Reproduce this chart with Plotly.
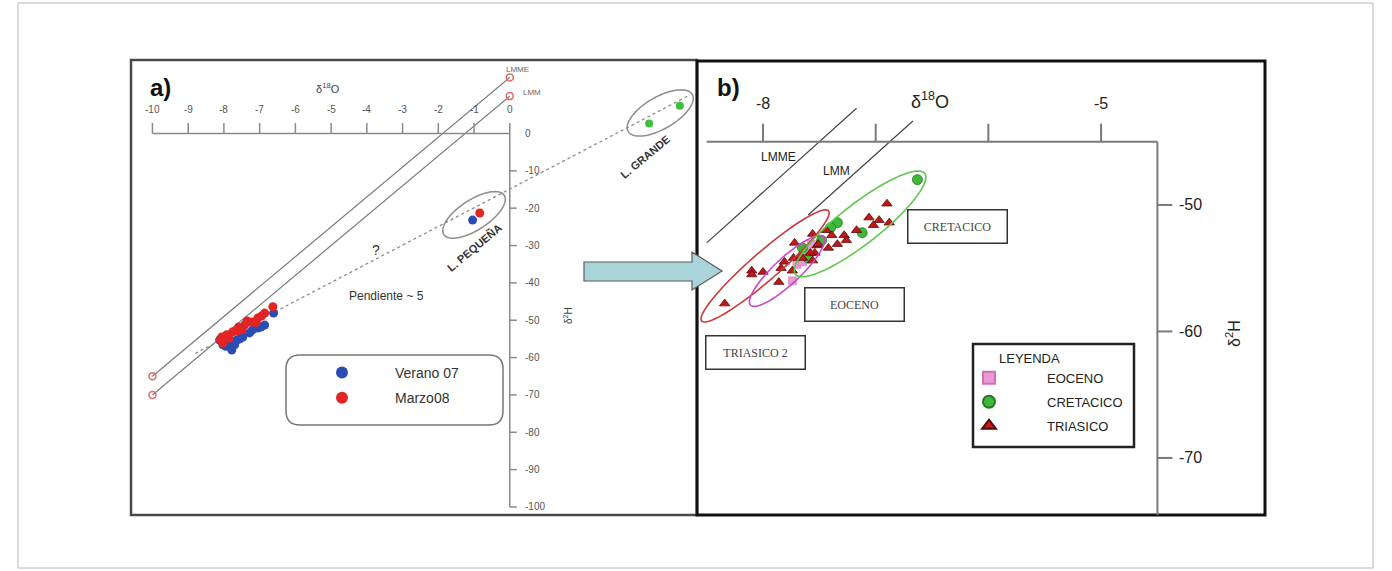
import numpy as np
import plotly.graph_objects as go

W, H = 1392, 571
SANS = "Liberation Sans, Arial, sans-serif"
SERIF = "Liberation Serif, Times New Roman, serif"

# ---------------- panel a: δ18O / δ2H (‰) ----------------
verano07_d18o = [-6.61, -6.86, -7.05, -7.28, -7.47, -7.64, -7.84, -8.03, -8.12, -7.78,
                 -7.20, -6.95, -7.55, -7.95, -7.70, -1.04]
verano07_d2h = [-48.1, -51.3, -52.1, -53.4, -54.5, -55.3, -56.1, -56.6, -55.3, -58.0,
                -52.6, -51.8, -55.0, -57.0, -56.6, -23.2]
marzo08_d18o = [-6.63, -6.86, -7.05, -7.22, -7.42, -7.59, -7.75, -7.92, -8.06, -8.03,
                -7.65, -7.35, -7.85, -7.10, -6.95, -8.10, -7.50, -0.84]
marzo08_d2h = [-46.4, -48.1, -49.4, -50.5, -51.3, -51.8, -53.1, -53.9, -54.5, -56.1,
               -52.9, -50.2, -54.8, -50.6, -48.9, -55.3, -52.6, -21.3]
lgrande_d18o = [3.90, 4.76]
lgrande_d2h = [2.7, 7.45]

lmme_a_x, lmme_a_y = [-10, 0], [-65, 15]
lmm_a_x, lmm_a_y = [-10, 0], [-70, 10]
evap_x, evap_y = [-8.8, 5.0], [-58.9, 10.1]

a_xticks = [-10, -9, -8, -7, -6, -5, -4, -3, -2, -1, 0]
a_xticklabels = ["-10", "-9", "-8", "-7", "-6", "-5", "-4", "-3", "-2", "-1", "0"]
a_yticks = [0, -10, -20, -30, -40, -50, -60, -70, -80, -90, -100]
a_yticklabels = ["0", "-10", "-20", "-30", "-40", "-50", "-60", "-70", "-80", "-90", "-100"]

# ---------------- panel b ----------------
eoceno_d18o = [-7.70, -7.74, -7.57, -7.62, -7.65]
eoceno_d2h = [-54.7, -56.0, -53.1, -53.8, -54.5]
cretacico_d18o = [-6.63, -7.34, -7.40, -7.12, -7.65, -7.48, -7.60]
cretacico_d2h = [-48.0, -51.4, -51.8, -52.2, -53.4, -52.8, -54.2]
triasico_d18o = [-6.90, -7.06, -6.97, -7.02, -6.88, -7.17, -7.44, -7.39, -7.28, -7.26,
                 -7.34, -7.42, -7.52, -7.56, -7.54, -7.58, -7.72, -7.67, -7.65, -7.56,
                 -7.73, -7.74, -7.84, -7.86, -8.00, -8.10, -8.10, -8.34, -7.51, -7.81]
triasico_d2h = [-49.9, -51.0, -51.2, -51.6, -51.4, -52.0, -52.0, -52.4, -52.4, -52.8,
                -53.1, -53.4, -53.2, -52.3, -53.8, -53.8, -53.0, -54.0, -54.2, -54.4,
                -54.2, -55.2, -55.0, -56.1, -55.3, -55.2, -55.5, -57.8, -53.1, -54.5]

lmme_b_x, lmme_b_y = [-8.5, -7.17], [-53.0, -42.36]
lmm_b_x, lmm_b_y = [-7.6, -6.67], [-50.8, -43.36]

b_xticks = [-8, -7, -6, -5]
b_xticklabels = ["-8", "", "", "-5"]
b_yticks = [-50, -60, -70]
b_yticklabels = ["-50", "-60", "-70"]

# ---------------- axes geometry ----------------
A_DOM_X = (131, 697)
A_DOM_Y = (60, 515)
A_XR = [-10.6, 5.24]
A_YR = [-102.15, 19.67]
B_DOM_X = (697, 1265)
B_DOM_Y = (62, 515)
B_XR = [-8.586, -3.545]
B_YR = [-74.51, -38.70]

a_sx = (A_DOM_X[1] - A_DOM_X[0]) / (A_XR[1] - A_XR[0])
a_sy = (A_DOM_Y[1] - A_DOM_Y[0]) / (A_YR[1] - A_YR[0])
b_sx = (B_DOM_X[1] - B_DOM_X[0]) / (B_XR[1] - B_XR[0])
b_sy = (B_DOM_Y[1] - B_DOM_Y[0]) / (B_YR[1] - B_YR[0])


def px(x):
    return x / W


def py(y):
    return 1 - y / H


def ellipse_path(cx, cy, a_px, b_px, ang, sx, sy, n=90):
    t = np.linspace(0, 2 * np.pi, n)
    th = np.radians(ang)
    dx = a_px * np.cos(t) * np.cos(th) - b_px * np.sin(t) * np.sin(th)
    dy = a_px * np.cos(t) * np.sin(th) + b_px * np.sin(t) * np.cos(th)
    xs = cx + dx / sx
    ys = cy + dy / sy
    return "M" + " L".join(f"{x:.5f},{y:.5f}" for x, y in zip(xs, ys)) + " Z"


fig = go.Figure()

# panel a lines
for lx, ly in [(lmme_a_x, lmme_a_y), (lmm_a_x, lmm_a_y)]:
    fig.add_trace(go.Scatter(x=lx, y=ly, mode="lines+markers", xaxis="x", yaxis="y",
                             line=dict(color="#7a7a7a", width=1.2),
                             marker=dict(symbol="circle-open", size=7, color="#e06a6a", line=dict(width=1.5)),
                             showlegend=False, hoverinfo="skip"))
fig.add_trace(go.Scatter(x=evap_x, y=evap_y, mode="lines", xaxis="x", yaxis="y",
                         line=dict(color="#8a8a8a", width=1.3, dash="dot"),
                         showlegend=False, hoverinfo="skip"))

# panel a samples
fig.add_trace(go.Scatter(x=verano07_d18o, y=verano07_d2h, mode="markers", name="Verano 07",
                         xaxis="x", yaxis="y", legend="legend", legendgroup="v07",
                         marker=dict(color="#2b4db3", size=9, line=dict(width=0))))
fig.add_trace(go.Scatter(x=marzo08_d18o, y=marzo08_d2h, mode="markers", name="Marzo08",
                         xaxis="x", yaxis="y", legend="legend", legendgroup="m08",
                         marker=dict(color="#e22424", size=9, line=dict(width=0))))
fig.add_trace(go.Scatter(x=lgrande_d18o, y=lgrande_d2h, mode="markers", xaxis="x", yaxis="y",
                         marker=dict(color="#3fbf3f", size=8, symbol="circle"),
                         showlegend=False))

# panel b lines
for lx, ly in [(lmme_b_x, lmme_b_y), (lmm_b_x, lmm_b_y)]:
    fig.add_trace(go.Scatter(x=lx, y=ly, mode="lines", xaxis="x2", yaxis="y2",
                             line=dict(color="#444444", width=1.2),
                             showlegend=False, hoverinfo="skip"))

# panel b samples
fig.add_trace(go.Scatter(x=eoceno_d18o, y=eoceno_d2h, mode="markers", name="EOCENO",
                         xaxis="x2", yaxis="y2", legend="legend2", legendgroup="eo",
                         marker=dict(symbol="square", color="#ea9ad2", size=8,
                                     line=dict(color="#d070b8", width=0.5))))
fig.add_trace(go.Scatter(x=cretacico_d18o, y=cretacico_d2h, mode="markers", name="CRETACICO",
                         xaxis="x2", yaxis="y2", legend="legend2", legendgroup="cr",
                         marker=dict(symbol="circle", color="#3fb83a", size=10,
                                     line=dict(color="#1f7a1f", width=0.8))))
fig.add_trace(go.Scatter(x=triasico_d18o, y=triasico_d2h, mode="markers", name="TRIASICO",
                         xaxis="x2", yaxis="y2", legend="legend2", legendgroup="tr",
                         marker=dict(symbol="triangle-up", color="#c01818", size=9,
                                     line=dict(color="#5a0a0a", width=0.8))))

shapes = []
annotations = []

# outer frame and panel frames
shapes.append(dict(type="rect", xref="paper", yref="paper", x0=px(18), x1=px(1373), y0=py(568), y1=py(3),
                   line=dict(color="#b5b5b5", width=1)))
shapes.append(dict(type="rect", xref="paper", yref="paper", x0=px(A_DOM_X[0]), x1=px(A_DOM_X[1]),
                   y0=py(A_DOM_Y[1]), y1=py(A_DOM_Y[0]), line=dict(color="#4a4a4a", width=2.5)))
shapes.append(dict(type="rect", xref="paper", yref="paper", x0=px(B_DOM_X[0]), x1=px(B_DOM_X[1]),
                   y0=py(B_DOM_Y[1]), y1=py(B_DOM_Y[0] - 1), line=dict(color="#111111", width=3)))

# panel a axes drawn through the data origin
AX_COL = "#8a8a8a"
shapes.append(dict(type="line", xref="x", yref="y", x0=a_xticks[0], x1=a_xticks[-1], y0=0, y1=0,
                   line=dict(color=AX_COL, width=1.5)))
shapes.append(dict(type="line", xref="x", yref="y", x0=0, x1=0, y0=a_yticks[0], y1=a_yticks[-1],
                   line=dict(color=AX_COL, width=1.5)))
for v, lab in zip(a_xticks, a_xticklabels):
    shapes.append(dict(type="line", xref="x", yref="y", x0=v, x1=v, y0=0, y1=10.5 / a_sy,
                       line=dict(color=AX_COL, width=1.5)))
    annotations.append(dict(x=v, y=0, xref="x", yref="y", text=lab, showarrow=False, yshift=23.5,
                            xanchor="center", yanchor="middle",
                            font=dict(family=SANS, size=10, color="#555555")))
for v, lab in zip(a_yticks, a_yticklabels):
    if v != 0:
        shapes.append(dict(type="line", xref="x", yref="y", x0=0, x1=7 / a_sx, y0=v, y1=v,
                           line=dict(color=AX_COL, width=1.5)))
    annotations.append(dict(x=0, y=v, xref="x", yref="y", text=lab, showarrow=False, xanchor="left",
                            yanchor="middle", xshift=13, font=dict(family=SANS, size=10, color="#555555")))

# panel a group outlines
shapes.append(dict(type="path", xref="x", yref="y", path=ellipse_path(-1.0, -21.8, 36, 15, 33, a_sx, a_sy),
                   line=dict(color="#8c8c8c", width=1.5)))
shapes.append(dict(type="path", xref="x", yref="y", path=ellipse_path(4.21, 5.49, 37, 16, 30, a_sx, a_sy),
                   line=dict(color="#8c8c8c", width=1.5)))

# panel a legend frame (rounded)
lx0, lx1, ly0, ly1, r = 286, 503, 355, 425, 14
rpath = (f"M{px(lx0 + r)},{py(ly0)} L{px(lx1 - r)},{py(ly0)} Q{px(lx1)},{py(ly0)} {px(lx1)},{py(ly0 + r)} "
         f"L{px(lx1)},{py(ly1 - r)} Q{px(lx1)},{py(ly1)} {px(lx1 - r)},{py(ly1)} "
         f"L{px(lx0 + r)},{py(ly1)} Q{px(lx0)},{py(ly1)} {px(lx0)},{py(ly1 - r)} "
         f"L{px(lx0)},{py(ly0 + r)} Q{px(lx0)},{py(ly0)} {px(lx0 + r)},{py(ly0)} Z")
shapes.append(dict(type="path", xref="paper", yref="paper", path=rpath, line=dict(color="#777777", width=1.5)))

# panel b axes (top x-axis at -45, right y-axis at -4.5)
BX_COL = "#7a7a7a"
b_axis_y = -45
b_axis_x = -4.5
shapes.append(dict(type="line", xref="x2", yref="y2", x0=-8.5, x1=b_axis_x, y0=b_axis_y, y1=b_axis_y,
                   line=dict(color=BX_COL, width=2)))
shapes.append(dict(type="line", xref="x2", yref="y2", x0=b_axis_x, x1=b_axis_x, y0=b_axis_y, y1=B_YR[0],
                   line=dict(color=BX_COL, width=2)))
for v, lab in zip(b_xticks, b_xticklabels):
    shapes.append(dict(type="line", xref="x2", yref="y2", x0=v, x1=v, y0=b_axis_y, y1=b_axis_y + 18 / b_sy,
                       line=dict(color=BX_COL, width=2)))
    if lab:
        annotations.append(dict(x=v, y=b_axis_y, xref="x2", yref="y2", text=lab, showarrow=False, yshift=38,
                                xanchor="center", yanchor="middle",
                                font=dict(family=SANS, size=16, color="#222222")))
for v, lab in zip(b_yticks, b_yticklabels):
    shapes.append(dict(type="line", xref="x2", yref="y2", x0=b_axis_x, x1=b_axis_x + 15 / b_sx, y0=v, y1=v,
                       line=dict(color=BX_COL, width=2)))
    annotations.append(dict(x=b_axis_x, y=v, xref="x2", yref="y2", text=lab, showarrow=False,
                            xanchor="left", yanchor="middle", xshift=20,
                            font=dict(family=SANS, size=16, color="#222222")))

# panel b group outlines
shapes.append(dict(type="path", xref="x2", yref="y2", path=ellipse_path(-7.982, -54.82, 84, 14, 41, b_sx, b_sy),
                   line=dict(color="#c83a3a", width=1.6)))
shapes.append(dict(type="path", xref="x2", yref="y2", path=ellipse_path(-7.787, -55.22, 50, 13, 43, b_sx, b_sy),
                   line=dict(color="#c848c8", width=1.6)))
shapes.append(dict(type="path", xref="x2", yref="y2", path=ellipse_path(-7.139, -51.50, 82, 20, 38, b_sx, b_sy),
                   line=dict(color="#5cc84a", width=1.6)))

# panel b legend frame
shapes.append(dict(type="rect", xref="paper", yref="paper", x0=px(973), x1=px(1134), y0=py(447), y1=py(344),
                   line=dict(color="#222222", width=2.5)))

# block arrow linking the panels
arrow = [(584, 262), (692, 262), (692, 252), (722, 271), (692, 290), (692, 281), (584, 281)]
apath = "M" + " L".join(f"{px(x)},{py(y)}" for x, y in arrow) + " Z"
shapes.append(dict(type="path", xref="paper", yref="paper", path=apath, fillcolor="#a8d4da",
                   line=dict(color="#5a5a5a", width=1.2)))


def txt(x, y, s, size, color="#333333", family=SANS, angle=0, **kw):
    annotations.append(dict(x=px(x), y=py(y), xref="paper", yref="paper", text=s, showarrow=False,
                            xanchor="center", yanchor="middle", textangle=angle,
                            font=dict(family=family, size=size, color=color), **kw))


# panel a texts
txt(160, 88, "<b>a)</b>", 24, "#111111")
txt(328, 88, "δ<sup>18</sup>O", 11, "#444444")
txt(568, 316, "δ<sup>2</sup>H", 10, "#444444", angle=-90)
txt(517, 70, "LMME", 8, "#666666")
txt(532, 93, "LMM", 8, "#666666")
txt(376, 250, "?", 14, "#333333")
txt(386, 296, "Pendiente ~ 5", 12, "#333333")
txt(474, 248, "<b>L. PEQUEÑA</b>", 11, "#333333", angle=-40)
txt(645, 157, "<b>L. GRANDE</b>", 11, "#333333", angle=-40)

# panel b texts
txt(728, 88, "<b>b)</b>", 24, "#111111")
txt(930, 100, "δ<sup>18</sup>O", 18, "#222222")
txt(1233, 334, "δ<sup>2</sup>H", 16, "#222222", angle=-90)
txt(778, 157, "LMME", 12, "#222222")
txt(836, 171, "LMM", 12, "#222222")
for cx, cy, label in [(957.5, 226.5, "CRETACICO"), (854.5, 304.5, "EOCENO"), (755, 352.5, "TRIASICO 2")]:
    txt(cx, cy, label, 12, "#444444", family=SERIF, width=96, height=30, borderpad=1,
        bordercolor="#333333", borderwidth=1.5, bgcolor="white")

fig.update_layout(
    width=W, height=H, margin=dict(l=0, r=0, t=0, b=0),
    paper_bgcolor="white", plot_bgcolor="rgba(0,0,0,0)",
    xaxis=dict(domain=[px(A_DOM_X[0]), px(A_DOM_X[1])], range=A_XR, visible=False, anchor="y"),
    yaxis=dict(domain=[py(A_DOM_Y[1]), py(A_DOM_Y[0])], range=A_YR, visible=False, anchor="x"),
    xaxis2=dict(domain=[px(B_DOM_X[0]), px(B_DOM_X[1])], range=B_XR, visible=False, anchor="y2"),
    yaxis2=dict(domain=[py(B_DOM_Y[1]), py(B_DOM_Y[0])], range=B_YR, visible=False, anchor="x2"),
    showlegend=True,
    legend=dict(x=px(289), xanchor="left", y=py(357), yanchor="top", bgcolor="rgba(0,0,0,0)",
                borderwidth=0, itemwidth=96, itemsizing="constant", traceorder="grouped",
                tracegroupgap=4, font=dict(family=SANS, size=14, color="#333333")),
    legend2=dict(x=px(931), xanchor="left", y=py(346), yanchor="top", bgcolor="rgba(0,0,0,0)",
                 borderwidth=0, itemwidth=106, itemsizing="constant", traceorder="grouped",
                 tracegroupgap=4, font=dict(family=SANS, size=13, color="#222222"),
                 title=dict(text="LEYENDA", side="top center", font=dict(family=SANS, size=13, color="#222222"))),
    shapes=shapes,
    annotations=annotations,
)

fig.write_html("out.html")
